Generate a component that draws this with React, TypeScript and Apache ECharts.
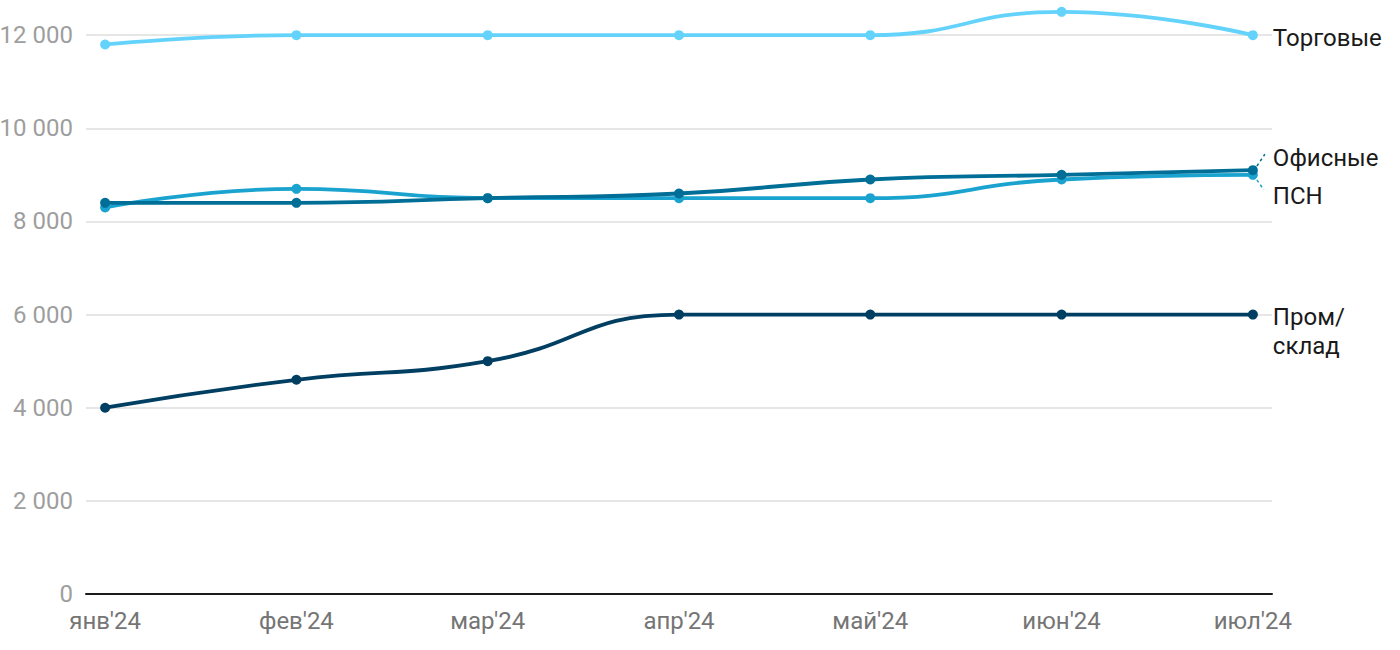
import React, { useEffect, useRef } from "react";
import * as echarts from "echarts";

const categories = ["янв'24", "фев'24", "мар'24", "апр'24", "май'24", "июн'24", "июл'24"];
const seriesNames = ["Торговые", "ПСН", "Офисные", "Пром/\nсклад"];
const torgovye = [11800, 12000, 12000, 12000, 12000, 12500, 12000];
const psn = [8300, 8700, 8500, 8500, 8500, 8900, 9000];
const ofisnye = [8400, 8400, 8500, 8600, 8900, 9000, 9100];
const promSklad = [4000, 4600, 5000, 6000, 6000, 6000, 6000];
const colors = ["#64d3fc", "#1aa3cf", "#006e96", "#003e62"];
const labelOffsets = [-12, 7, -27, -12];

const FONT = "Roboto, 'Noto Sans', sans-serif";
const SHIFT = 58;

export default function App() {
  const ref = useRef<HTMLDivElement>(null);
  useEffect(() => {
    document.body.style.margin = "0";
    document.body.style.overflow = "hidden";
    const chart = echarts.init(ref.current!, null, { renderer: "svg" });
    const all = [torgovye, psn, ofisnye, promSklad];
    const series = all.map((vals, si) => ({
      type: "line",
      name: seriesNames[si],
      data: vals.map((v, i) => [i, v]),
      smooth: 0.5,
      symbol: "circle",
      symbolSize: 10,
      z: 2 + si,
      lineStyle: { color: colors[si], width: 3.8 },
      itemStyle: { color: colors[si] },
      label: {
        show: true,
        position: "right",
        distance: 15,
        verticalAlign: "top",
        align: "left",
        offset: [0, labelOffsets[si]],
        fontFamily: FONT,
        fontSize: 24,
        lineHeight: 29,
        color: "#1a1a1a",
        formatter: (p: any) => (p.dataIndex === vals.length - 1 ? seriesNames[si] : ""),
      },
      emphasis: { disabled: true },
    }));
    chart.setOption({
      animation: false,
      grid: {
        left: 86,
        right: 128,
        top: 0,
        bottom: 56,
        containLabel: false,
        outerBoundsMode: "none",
      },
      xAxis: {
        type: "value",
        min: -0.1,
        max: 6.1,
        splitNumber: 6,
        minInterval: 1,
        maxInterval: 1,
        axisLine: { show: true, lineStyle: { color: "#1a1a1a", width: 2 } },
        axisTick: { show: false },
        splitLine: { show: false },
        axisLabel: {
          margin: 15,
          fontFamily: FONT,
          fontSize: 24,
          color: "#757575",
          showMinLabel: false,
          showMaxLabel: false,
          formatter: (v: number) => (Number.isInteger(v) && categories[v] ? categories[v] : ""),
        },
      },
      yAxis: {
        type: "value",
        min: 0,
        max: 14000,
        interval: 2000,
        axisLine: { show: false },
        axisTick: { show: false },
        splitLine: { show: true, lineStyle: { color: "#e6e6e6", width: 2 } },
        axisLabel: {
          margin: 13,
          fontFamily: FONT,
          fontSize: 24,
          color: "#9e9e9e",
          showMaxLabel: false,
          formatter: (v: number) =>
            v >= 14000 ? "" : String(v).replace(/\B(?=(\d{3})+(?!\d))/g, " "),
        },
      },
      series,
    });
    const last = categories.length - 1;
    const pOf = chart.convertToPixel({ xAxisIndex: 0, yAxisIndex: 0 }, [last, ofisnye[last]]) as number[];
    const pPsn = chart.convertToPixel({ xAxisIndex: 0, yAxisIndex: 0 }, [last, psn[last]]) as number[];
    chart.setOption({
      graphic: [
        {
          type: "line",
          shape: { x1: pOf[0] + 4, y1: pOf[1] - 4, x2: pOf[0] + 12, y2: pOf[1] - 16 },
          style: { stroke: colors[2], lineWidth: 1.5, lineDash: [3, 3] },
        },
        {
          type: "line",
          shape: { x1: pPsn[0] + 4, y1: pPsn[1] + 5, x2: pPsn[0] + 11, y2: pPsn[1] + 15 },
          style: { stroke: colors[1], lineWidth: 1.5, lineDash: [3, 3] },
        },
      ],
    });
    return () => chart.dispose();
  }, []);
  return (
    <div
      ref={ref}
      style={{ position: "absolute", left: 0, top: -SHIFT, width: 1400, height: 650 + SHIFT }}
    />
  );
}
